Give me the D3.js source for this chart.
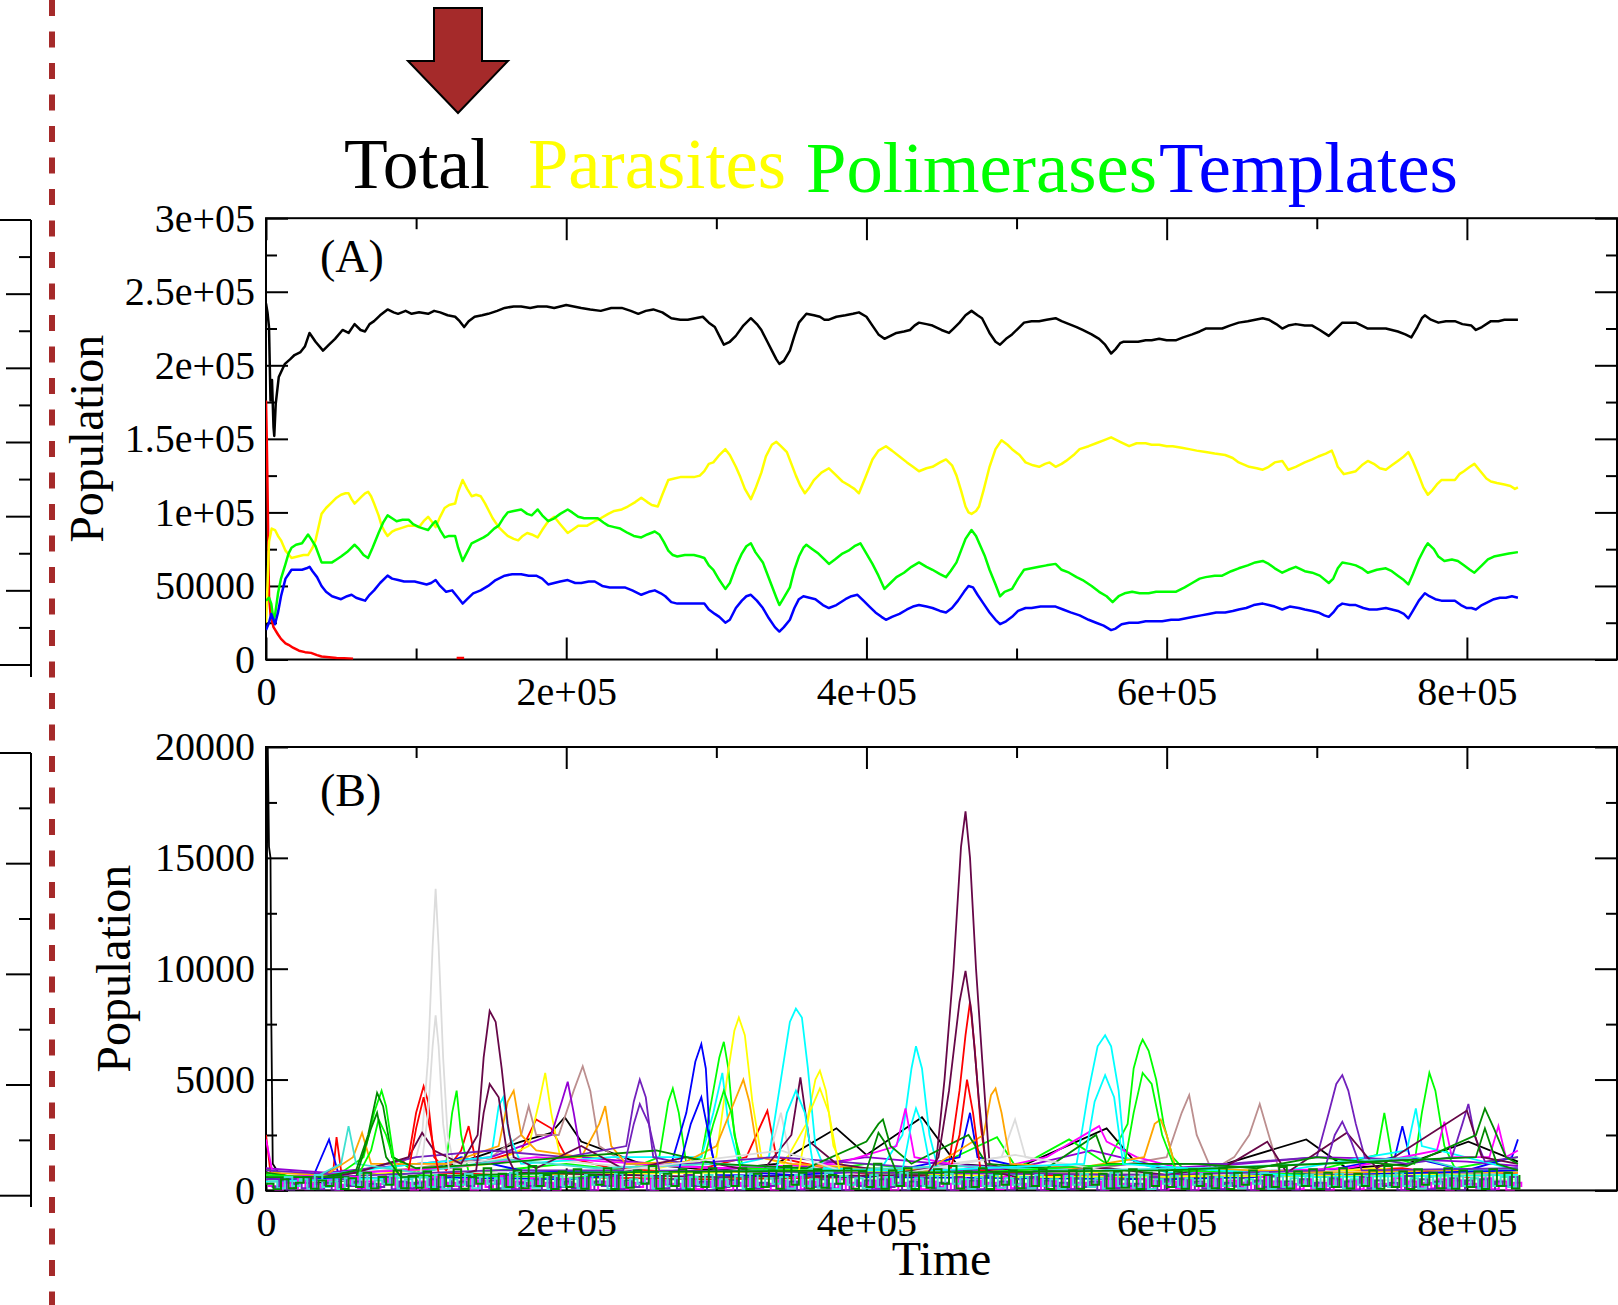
<!DOCTYPE html>
<html><head><meta charset="utf-8">
<script src="https://cdn.jsdelivr.net/npm/d3@7"></script>
<style>body{margin:0;background:#fff}svg{display:block}</style>
</head><body>
<svg id="c" width="1618" height="1305"></svg>
<script>
// ---------------- DATA (time in thousands, panel A values in thousands) ----------------
const legendLabels = ["Total", "Parasites", "Polimerases", "Templates"];
const xTickValues = [0, 200000, 400000, 600000, 800000];
const yTickValuesA = [0, 50000, 100000, 150000, 200000, 250000, 300000];
const yTickValuesB = [0, 5000, 10000, 15000, 20000];

const totalK = [[0,242],[1,236],[2,226],[3,176],[4,190],[5,158],[5.5,152],[6.5,174],[8.5,192],[12.6,201],[16,204],[19,207],[23,209],[26,213],[29,222],[33,216],[38,210],[42,214],[46,218],[51,224],[55,222],[59,228],[63,224],[66,223],[69,228],[72,230],[76,234],[81,238],[85,236],[88,235],[93,237],[97,235],[102,236],[108,235],[112,237],[116,236],[121,234],[126,233],[129,230],[132,226],[135,230],[139,233],[144,234],[148,235],[154,237],[159,239],[165,240],[170,240],[176,239],[181,240],[187,240],[192,239],[196,240],[200,241],[205,240],[210,239],[216,238],[223,237],[230,239],[237,239],[243,237],[248,235],[253,237],[258,238],[264,236],[270,232],[276,231],[281,231],[286,232],[291,233],[295,229],[299,226],[303,218],[305,214],[309,216],[313,220],[318,227],[323,232],[327,228],[330,224],[334,216],[337,210],[340,204],[342,201],[345,203],[349,210],[352,220],[355,229],[360,235],[365,234],[369,233],[372,231],[375,231],[380,233],[386,234],[391,235],[395,236],[400,233],[404,227],[408,221],[412,218],[416,220],[420,222],[425,223],[429,224],[432,227],[435,229],[440,228],[444,227],[450,224],[455,222],[458,225],[462,229],[466,234],[470,237],[474,234],[477,232],[480,226],[482,222],[486,216],[489,214],[493,218],[497,221],[501,225],[505,229],[510,230],[515,230],[520,231],[526,232],[530,230],[535,228],[540,226],[544,224],[550,221],[555,218],[559,214],[563,208],[566,211],[569,215],[571,216],[576,216],[581,216],[586,217],[590,217],[595,218],[600,217],[606,217],[611,219],[617,221],[622,223],[626,225],[632,225],[637,225],[642,227],[648,229],[654,230],[659,231],[664,232],[668,231],[673,228],[677,225],[681,227],[686,228],[692,227],[697,227],[702,224],[708,220],[712,224],[717,229],[722,229],[726,229],[730,227],[734,225],[740,225],[746,225],[750,224],[754,223],[759,221],[763,219],[767,226],[770,232],[772,234],[776,231],[781,229],[786,230],[792,230],[797,228],[803,227],[806,224],[810,226],[816,230],[821,230],[825,231],[830,231],[834,231]];

const parasitesK = [[0,25],[1,50],[2,80],[3.8,89],[6,88],[8,84],[10,81],[13,74],[17,69],[21,70],[25,71],[28,71],[31,76],[33,81],[35,90],[37,99],[40,103],[44,107],[47,110],[50,112],[53,113],[55,113],[57,109],[59,106],[62,109],[64,111],[66,113],[68,114],[70,111],[72,106],[75,98],[77,91],[79,87],[81,84],[84,87],[86,88],[89,89],[92,90],[95,91],[99,91],[102,90],[105,94],[108,97],[111,93],[113,90],[116,97],[119,103],[122,105],[126,106],[128,114],[131,122],[134,116],[137,111],[140,112],[143,111],[146,106],[148,102],[151,96],[155,90],[158,87],[161,84],[165,82],[168,81],[171,84],[174,86],[177,85],[181,83],[184,88],[188,94],[192,97],[196,92],[201,86],[204,88],[208,91],[214,91],[219,94],[223,96],[228,99],[232,101],[237,102],[241,104],[246,107],[250,110],[254,107],[257,105],[261,104],[264,112],[268,122],[272,123],[276,124],[281,124],[285,124],[289,125],[292,128],[295,133],[298,134],[302,139],[306,143],[309,139],[313,131],[316,124],[319,116],[323,109],[326,116],[330,127],[333,138],[337,146],[340,148],[343,145],[347,141],[350,133],[353,125],[356,118],[359,113],[362,117],[365,122],[370,127],[375,130],[379,126],[384,121],[389,118],[392,116],[395,113],[399,123],[404,136],[408,142],[413,145],[417,142],[422,138],[427,134],[431,131],[435,128],[440,130],[444,131],[449,134],[453,136],[457,132],[460,125],[463,115],[466,104],[468,100],[470,99],[473,101],[475,104],[478,115],[482,131],[486,143],[490,149],[494,146],[497,143],[502,139],[506,134],[511,132],[515,131],[519,133],[522,134],[526,131],[530,133],[533,135],[538,139],[542,143],[548,145],[553,147],[558,149],[563,151],[569,148],[575,145],[580,147],[586,147],[590,146],[595,146],[600,145],[604,145],[610,144],[615,143],[620,142],[626,141],[632,140],[639,139],[644,137],[648,134],[655,131],[660,130],[664,129],[668,131],[672,134],[677,135],[681,129],[686,131],[692,134],[697,136],[701,138],[706,140],[710,142],[712,137],[714,131],[718,126],[722,127],[726,128],[730,132],[734,135],[738,133],[742,130],[746,129],[750,132],[754,135],[758,138],[761,141],[764,135],[768,125],[771,117],[774,112],[777,115],[780,119],[783,122],[788,122],[792,122],[795,126],[798,128],[802,131],[805,133],[809,128],[813,123],[816,121],[820,120],[825,119],[829,118],[832,116],[834,117]];

const polimerasesK = [[0,40],[2,42],[3.5,38],[5,27],[6,30],[8,45],[10,55],[13,65],[15,72],[17,76],[20,78],[24,79],[28,85],[30,82],[33,77],[37,66],[40,66],[44,66],[47,68],[50,70],[54,73],[59,78],[62,75],[65,71],[68,69],[71,76],[75,86],[78,93],[81,98],[84,96],[87,94],[91,95],[95,95],[98,92],[102,90],[105,89],[108,88],[111,92],[113,94],[116,88],[119,83],[122,84],[126,84],[128,76],[131,67],[134,73],[137,79],[141,81],[145,83],[148,85],[152,89],[155,91],[158,96],[161,100],[165,101],[170,102],[174,99],[177,98],[181,102],[184,98],[188,94],[192,96],[196,99],[201,102],[204,100],[208,97],[212,96],[216,96],[221,96],[225,93],[228,91],[232,90],[236,89],[241,86],[245,84],[250,83],[254,85],[259,87],[262,85],[265,80],[268,74],[271,71],[274,70],[279,71],[285,71],[289,70],[292,69],[295,64],[298,61],[302,54],[306,48],[309,52],[313,63],[317,72],[320,77],[323,79],[326,73],[331,66],[334,58],[337,50],[340,42],[342,37],[345,42],[349,49],[352,61],[355,70],[358,76],[360,78],[364,75],[368,72],[372,68],[375,65],[379,68],[384,72],[388,74],[392,77],[396,79],[400,72],[404,65],[408,57],[412,48],[416,52],[420,56],[425,59],[430,63],[435,66],[440,63],[444,61],[449,58],[453,56],[456,60],[460,66],[463,74],[466,82],[470,88],[473,84],[476,77],[479,70],[482,61],[486,51],[489,43],[492,46],[497,48],[501,55],[505,61],[510,62],[515,63],[520,64],[526,65],[530,61],[535,59],[540,56],[544,54],[550,50],[555,46],[560,43],[564,39],[568,43],[572,45],[577,46],[582,45],[588,45],[593,46],[600,46],[606,46],[612,49],[617,52],[622,55],[626,56],[632,57],[637,57],[643,60],[648,62],[654,64],[659,66],[664,67],[668,65],[672,62],[677,59],[681,61],[686,63],[692,60],[697,59],[702,57],[708,52],[711,55],[714,62],[717,66],[722,65],[726,64],[730,62],[734,59],[740,61],[746,62],[750,60],[754,57],[758,54],[761,51],[764,58],[768,68],[772,76],[774,79],[778,75],[781,70],[785,67],[790,68],[794,67],[798,64],[802,61],[805,59],[810,64],[814,68],[818,70],[823,71],[828,72],[834,73]];

const templatesK = [[0,20],[2,25],[3.5,31],[5,27],[6,24],[8,32],[10,43],[13,55],[15,58],[17,61],[21,61],[24,61],[27,62],[29,63],[31,60],[34,56],[37,50],[40,46],[44,43],[47,42],[50,41],[54,43],[57,44],[60,42],[63,41],[66,40],[69,44],[72,47],[76,52],[81,57],[84,55],[88,54],[92,53],[96,53],[99,53],[103,52],[107,51],[110,52],[113,54],[116,50],[120,46],[124,47],[128,42],[131,38],[134,41],[138,45],[143,47],[148,50],[153,54],[159,57],[164,58],[170,58],[175,57],[180,57],[184,55],[188,51],[192,52],[196,53],[201,54],[206,52],[210,52],[215,53],[219,53],[224,50],[229,49],[234,49],[239,49],[244,47],[250,44],[255,46],[259,47],[263,45],[266,43],[270,39],[274,38],[280,38],[286,38],[292,38],[295,34],[299,31],[302,29],[306,25],[309,27],[313,35],[317,40],[320,43],[323,44],[327,40],[331,35],[335,28],[339,22],[342,19],[345,22],[349,27],[352,35],[355,41],[358,43],[362,42],[366,41],[371,37],[375,35],[380,37],[386,41],[390,43],[394,44],[398,40],[402,36],[406,32],[410,29],[413,27],[417,29],[422,31],[427,34],[431,36],[435,37],[440,36],[444,35],[449,33],[453,32],[457,35],[461,40],[465,46],[468,50],[471,49],[474,44],[478,38],[482,32],[486,27],[489,24],[493,26],[497,29],[501,33],[506,35],[510,35],[516,36],[521,36],[526,36],[531,34],[536,32],[542,30],[548,27],[553,25],[558,23],[563,20],[566,21],[570,24],[575,25],[581,25],[586,26],[592,26],[597,26],[603,27],[608,27],[613,28],[618,29],[623,30],[628,31],[633,32],[639,32],[644,33],[648,34],[653,35],[658,37],[664,38],[668,37],[672,36],[677,34],[682,36],[688,35],[692,34],[697,33],[701,32],[705,30],[708,29],[711,32],[714,36],[717,38],[722,37],[726,37],[731,35],[735,34],[740,34],[746,35],[750,34],[754,33],[758,31],[761,28],[764,33],[768,40],[772,45],[775,43],[779,41],[783,40],[788,40],[792,40],[796,37],[800,35],[803,35],[806,34],[810,37],[814,39],[818,41],[822,42],[826,42],[830,43],[834,42]];

const redK = [[0,176],[0.5,150],[1,117],[1.5,80],[2,43],[3,31],[5,22],[8,17],[10,14],[13,11],[15,10],[18,8],[22,6],[26,5],[30,4.5],[34,3],[37,2],[42,1.5],[47,1],[52,0.8],[58,0.5],[58.5,null],[127,1],[132,1]];

// Panel B: [time (thousands), population]
const bBlack = [[0,2000],[1,21000],[2,15500],[3,15000],[3.5,7900],[4.5,1200],[10,600],[30,300],[60,500],[100,700],[140,1500],[170,2200],[190,2600],[199,3300],[210,2200],[250,1200],[300,900],[340,1200],[380,2800],[400,1600],[437,3300],[460,1200],[500,1000],[560,2800],[580,1200],[620,800],[693,2300],[720,1000],[760,1200],[801,2200],[834,1300]];
const bRed = [[0,2500],[3,800],[30,400],[45,1000],[47,2400],[50,900],[80,700],[95,1500],[100,3500],[105,4700],[108,4000],[112,1500],[120,900],[130,1800],[135,2900],[140,1200],[170,1800],[180,3200],[190,2800],[200,1500],[230,1000],[280,800],[320,1500],[334,3600],[340,1500],[380,900],[420,600],[455,1200],[462,4500],[466,7000],[469,8500],[472,6500],[476,3000],[480,900],[520,700],[600,500],[680,800],[757,1000],[800,600],[834,800]];
const bGreen = [[0,1000],[20,500],[50,800],[65,1500],[72,3500],[77,4500],[80,3800],[85,1500],[100,800],[120,1200],[124,3500],[127,4500],[130,2500],[135,800],[170,1000],[200,1200],[240,900],[262,1500],[268,4000],[271,4600],[275,3500],[280,1200],[290,1500],[298,4500],[302,6000],[305,6700],[308,5500],[312,2500],[318,1000],[360,800],[400,1200],[440,900],[487,2400],[500,1000],[535,2300],[560,1200],[574,3000],[578,5500],[582,6500],[584,6800],[588,6300],[593,5000],[598,3000],[604,1500],[612,900],[660,700],[700,900],[740,1600],[745,3500],[750,1500],[765,1200],[770,3500],[775,5300],[779,4500],[785,2000],[792,1000],[834,1500]];
const bBlue = [[0,600],[30,400],[42,2300],[48,800],[100,700],[130,1500],[170,900],[230,800],[270,1200],[280,3500],[286,5800],[290,6600],[293,5500],[296,2000],[300,900],[350,700],[420,900],[462,1500],[469,3500],[474,1500],[520,800],[600,600],[700,800],[752,1500],[757,2900],[762,1500],[800,900],[830,1500],[834,2300]];
const bYellow = [[0,500],[50,600],[100,900],[150,1200],[175,2000],[182,4000],[186,5300],[190,3500],[196,1500],[220,1500],[260,1000],[300,1500],[307,5000],[312,7200],[315,7800],[319,7000],[324,4000],[330,1500],[345,1200],[360,3000],[366,5000],[369,5400],[373,4500],[378,2000],[385,1000],[430,900],[500,700],[560,800],[600,600],[660,900],[700,800],[740,1000],[780,700],[834,900]];
const bBrown = [[0,600],[60,800],[100,1000],[150,1500],[170,2500],[175,3800],[180,2500],[195,2500],[205,4500],[211,5600],[216,4500],[222,2000],[240,1200],[300,1000],[360,1000],[420,900],[480,900],[540,800],[600,1500],[610,3500],[615,4300],[620,2500],[630,900],[645,1500],[655,2500],[662,3900],[668,2500],[675,900],[720,700],[780,800],[834,700]];
const bGrey = [[0,500],[40,600],[100,1500],[104,2500],[108,6000],[111,11000],[113,13600],[115,11000],[118,6000],[121,2500],[125,1200],[170,1500],[250,1000],[335,1500],[343,3500],[350,1200],[420,900],[490,1500],[499,3200],[506,1500],[560,800],[640,700],[700,900],[780,600],[834,700]];
const bViolet = [[0,1000],[40,800],[100,1200],[150,1500],[190,2500],[197,4000],[201,4900],[205,3500],[210,1500],[260,1200],[300,1000],[350,1000],[400,1500],[450,1200],[500,1000],[550,1800],[600,1000],[650,1200],[700,1500],[760,1400],[800,1300],[834,1100]];
const bCyan = [[0,500],[50,800],[100,1200],[150,1500],[155,3800],[158,4200],[162,2500],[170,1200],[230,1500],[290,1500],[298,3500],[304,5300],[308,3000],[315,1200],[335,1500],[343,5000],[349,7600],[353,8200],[357,7800],[361,5500],[366,2000],[372,1000],[410,1000],[424,2500],[430,5500],[433,6500],[437,5500],[442,2500],[448,900],[500,700],[540,1200],[548,4500],[554,6500],[559,7000],[563,6500],[568,4500],[572,1500],[600,800],[680,900],[760,1800],[766,3700],[770,2000],[834,900]];
const bMagenta = [[0,2300],[5,600],[60,800],[120,1000],[180,1500],[250,1200],[300,1000],[380,1200],[420,2000],[426,3700],[432,1500],[480,900],[520,1500],[555,2900],[560,2200],[580,1500],[620,800],[680,900],[720,1000],[780,1800],[785,3100],[790,1500],[815,1500],[821,2900],[826,1500],[834,1800]];
const bOrange = [[0,800],[40,700],[58,1500],[64,2600],[70,1200],[120,1200],[155,2000],[161,4000],[165,4500],[170,2500],[180,1800],[210,1500],[222,3000],[226,3800],[230,2000],[240,1200],[280,1300],[300,2000],[312,4000],[318,5000],[322,4000],[328,1500],[350,1200],[400,1000],[440,900],[478,2500],[483,4300],[486,4600],[490,3500],[496,1200],[540,1000],[585,1500],[592,3000],[596,3200],[600,2500],[606,1000],[660,900],[720,800],[780,900],[834,800]];
const bIndigo = [[0,900],[50,700],[100,1500],[150,1800],[200,1500],[240,2000],[245,4000],[249,5000],[253,4200],[258,1500],[280,1200],[340,1500],[400,1200],[460,900],[520,1000],[580,1200],[640,1200],[700,1500],[708,3500],[713,4800],[717,5200],[721,4500],[726,3000],[732,1500],[760,1200],[790,1500],[797,3000],[801,3900],[805,2500],[812,1300],[834,1500]];
const bMaroon = [[0,600],[20,300],[60,800],[95,1500],[104,2600],[112,1800],[130,1200],[141,2500],[145,6000],[149,8100],[153,7600],[157,5500],[161,3000],[165,1500],[180,1000],[210,2000],[240,900],[280,1500],[300,1200],[330,800],[350,2500],[356,5100],[362,2200],[380,1200],[420,800],[446,1000],[452,5000],[458,10000],[463,15500],[466,17100],[469,15000],[473,10000],[477,6000],[482,1200],[500,800],[560,1000],[600,700],[640,1100],[667,2200],[680,800],[720,2600],[740,1000],[800,3600],[810,1500],[834,1200]];
const bTurquoise = [[0,700],[30,500],[50,1200],[55,2900],[60,1200],[100,800],[160,1400],[220,1000],[300,1200],[380,900],[460,1100],[540,900],[620,1000],[700,1200],[766,1500],[800,900],[834,1000]];
const bGreen4 = [[0,800],[30,500],[60,900],[68,2500],[74,4400],[78,3800],[84,1500],[100,1000],[150,1200],[200,1500],[260,1800],[300,1200],[360,1000],[400,2200],[408,3000],[411,3200],[416,2000],[430,1200],[468,2500],[480,1200],[520,1000],[553,2500],[560,1200],[620,1200],[660,1000],[700,1500],[760,1100],[806,2500],[812,3700],[818,2800],[826,1500],[834,1200]];
// second line of each species pair
const bRed2 = [[95,900],[100,2800],[105,4200],[110,2500],[115,800],[200,600],[300,500],[400,600],[455,700],[462,2500],[467,5000],[471,3500],[476,900],[540,600]];
const bGreen2 = [[0,700],[60,500],[70,1800],[75,3200],[80,2500],[88,700],[200,600],[290,900],[298,3000],[305,4500],[310,3500],[316,1000],[450,700],[572,1200],[578,3500],[584,5300],[590,4800],[597,2500],[606,900],[700,700]];
const bBlue2 = [[0,500],[100,600],[200,500],[275,900],[283,3000],[290,4200],[295,2500],[300,700],[400,600],[600,500],[834,900]];
const bYellow2 = [[0,400],[150,700],[300,800],[355,900],[362,3500],[369,4600],[375,3500],[382,900],[500,600],[834,700]];
const bGrey2 = [[0,400],[80,500],[103,800],[108,3500],[111,6500],[113,7900],[115,6500],[118,3000],[122,900],[200,600],[343,1800],[400,500],[499,1600],[600,400],[834,500]];
const bCyan2 = [[0,400],[200,800],[340,900],[347,3500],[353,4500],[359,3500],[365,900],[424,900],[430,3000],[433,3700],[437,3000],[443,900],[545,1200],[552,4000],[559,5200],[565,4200],[571,1200],[700,600],[834,700]];
const bIndigo2 = [[0,500],[150,900],[238,900],[245,3000],[249,3900],[255,3000],[262,900],[400,800],[600,700],[705,900],[712,2500],[717,3100],[723,2200],[730,900],[834,1000]];
const bMaroon2 = [[130,700],[140,900],[145,3500],[149,4800],[155,4200],[161,1500],[166,800],[300,600],[440,700],[448,1500],[455,4500],[462,8500],[466,9900],[470,8000],[475,4000],[480,900],[500,600]];
const bGreen4b = [[0,600],[60,600],[70,2800],[74,3500],[80,1500],[90,600],[200,800],[400,900],[408,2600],[412,2200],[420,800],[600,900],[806,1500],[812,2800],[820,1200],[834,900]];
// fast fluctuating low populations, sampled every 5000 time units (each with its own start offset)
const noiseGreen4 = [300,50,500,100,350,600,80,450,200,700,60,550,150,800,90,600,250,900,100,650,
120,850,60,700,200,950,80,600,300,1000,50,750,150,900,100,1100,200,700,60,850,
150,950,80,700,250,1000,60,800,120,900,300,1100,80,750,200,950,50,800,150,1000,
100,850,200,1000,60,750,150,900,80,1100,250,800,90,950,120,700,300,1000,70,850,
150,1200,80,900,200,1000,60,800,120,950,300,1100,90,850,150,1000,60,750,250,900,
100,800,200,950,60,700,150,900,80,1000,250,750,90,850,120,950,60,800,200,900,
150,850,70,950,200,750,100,1000,60,800,250,900,80,700,150,1050,90,850,200,950,
60,800,150,1000,90,750,200,900,70,1100,150,850,60,950,250,800,100,1000,80,900,
150,850,60,950,200,800,90,700];
const noiseTurquoise = [400,100,600,200,500,80,700,150,400,60,550,250,800,100,450,300,650,90,500,200,
600,150,700,80,500,250,750,100,600,300,550,90,800,200,450,120,700,60,650,180,
550,100,700,250,600,80,750,150,500,300,650,90,800,200,550,100,600,250,700,120,
500,200,650,80,750,150,550,300,600,90,700,200,500,120,800,60,650,250,550,100,
700,150,600,250,800,90,550,200,650,100,750,300,500,80,600,200,700,120,550,250,
600,100,700,200,500,80,650,250,750,150,550,90,800,200,600,120,700,60,500,300,
650,150,550,250,750,90,600,200,700,100,500,300,800,80,650,150,550,250,700,120,
600,200,750,100,500,250,650,80,700,150,800,200,550,90,600,300,700,120,650,200,
550,100,700,200,600,150,650];
const noiseMagenta = [200,0,350,100,500,50,300,150,450,0,250,600,100,400,50,300,550,100,350,0,
400,100,600,50,350,200,500,0,450,150,300,650,100,400,50,550,200,350,0,500,
300,100,550,0,400,200,600,50,350,150,500,0,450,250,300,100,600,50,400,150,
500,0,350,200,550,100,300,0,450,150,600,50,400,200,300,100,500,0,350,250,
450,100,600,0,350,200,500,50,400,150,300,0,550,100,450,200,350,50,600,100,
300,150,500,0,450,100,650,50,350,200,400,0,550,150,300,100,500,50,450,0,
400,100,550,0,300,200,500,50,450,150,350,0,600,100,400,200,300,50,500,100,
350,0,500,150,450,50,600,100,300,200,550,0,400,150,350,100,500,0,450,200,
300,100,550,50,400,0,350,150];
const noiseIndigo = [150,450,0,300,100,550,50,350,0,500,200,400,0,300,150,600,50,400,100,350,
0,500,150,650,50,400,200,550,0,450,100,700,50,350,200,500,0,600,150,400,
100,550,0,400,200,650,50,450,150,350,0,600,100,500,50,700,200,400,0,550,
150,450,0,600,100,350,200,550,50,400,0,650,150,500,100,300,0,600,200,450,
50,500,150,700,0,400,200,550,100,350,0,600,150,450,50,650,200,400,0,500,
100,600,0,450,200,350,50,550,150,400,0,650,100,500,200,300,50,600,0,450,
150,500,0,400,100,600,50,350,200,550,0,450,150,650,100,400,0,500,200,350,
50,550,150,400,0,600,100,450,200,350,0,650,150,500,50,400,100,550,0,450,
150,500,0,400,200,600,50];

// ---------------- DRAWING ----------------
const FONT = "'Liberation Serif','Times New Roman',serif";
const svg = d3.select('#c');

const x = d3.scaleLinear().domain([0, 900000]).range([266, 1617]);
const yA = d3.scaleLinear().domain([0, 300000]).range([659.5, 218.2]);
const yB = d3.scaleLinear().domain([0, 20000]).range([1190.4, 747]);

const fmt = v => {
  if (v === 0) return "0";
  if (v < 100000) return String(v);
  const e = Math.floor(Math.log10(v));
  const m = +(v / Math.pow(10, e)).toFixed(2);
  return m + "e+" + String(e).padStart(2, "0");
};

const defs = svg.append('defs');
[['clipA', yA], ['clipB', yB]].forEach(([id, y]) => {
  defs.append('clipPath').attr('id', id).append('rect')
    .attr('x', x(0)).attr('y', y(y.domain()[1]))
    .attr('width', x(900000) - x(0)).attr('height', y(0) - y(y.domain()[1]));
});

// dashed separator and cropped neighbouring axes
svg.append('line').attr('x1', 52).attr('x2', 52).attr('y1', 0).attr('y2', 1305)
  .attr('stroke', '#a52a2a').attr('stroke-width', 6).attr('stroke-dasharray', '16 15.5');

function stubAxis(y, step, bigStep, yEnd) {
  const g = svg.append('g');
  const [d0, d1] = y.domain();
  g.append('line').attr('x1', 31).attr('x2', 31).attr('y1', y(d1)).attr('y2', yEnd)
    .attr('stroke', '#000').attr('stroke-width', 2);
  [d0, d1].forEach(v => g.append('line').attr('x1', 0).attr('x2', 31).attr('y1', y(v)).attr('y2', y(v))
    .attr('stroke', '#000').attr('stroke-width', 2));
  const vals = d3.range(d0 + step, d1, step);
  g.selectAll('.t').data(vals).join('line')
    .attr('x1', v => (v % bigStep === 0) ? 6 : 19).attr('x2', 31)
    .attr('y1', v => y(v)).attr('y2', v => y(v))
    .attr('stroke', '#000').attr('stroke-width', 2);
}
stubAxis(d3.scaleLinear().domain([0, 300000]).range([665, 220]), 25000, 50000, 677);
stubAxis(d3.scaleLinear().domain([0, 20000]).range([1195.7, 753]), 2500, 5000, 1207);

// arrow
svg.append('path').attr('d', 'M434,8 L482,8 L482,61 L508,61 L458,113 L408,61 L434,61 Z')
  .attr('fill', '#a52a2a').attr('stroke', '#000').attr('stroke-width', 2);

// legend
const legendColors = ['#000000', '#ffff00', '#00ff00', '#0000ff'];
const legendX = [344, 528, 806, 1159];
const legendW = [146, 258, 351, 299];
const legendY = [188, 188, 192, 192];
legendLabels.forEach((t, i) => {
  svg.append('text').attr('x', legendX[i]).attr('y', legendY[i]).text(t)
    .attr('font-family', FONT).attr('font-size', 72).attr('fill', legendColors[i])
    .attr('textLength', legendW[i]).attr('lengthAdjust', 'spacingAndGlyphs');
});

function panel(y, yStep, yMinor, yLabels, letter, letterY, popX, showTimeLabel) {
  const top = y.range()[1], bot = y.range()[0];
  const g = svg.append('g');
  const styleAxis = sel => {
    sel.select('.domain').remove();
    sel.attr('font-family', FONT).attr('font-size', 40);
    sel.selectAll('line').attr('stroke', '#000').attr('stroke-width', 2);
    sel.selectAll('text').attr('fill', '#000');
  };
  const xMajor = xTickValues;
  const xMinor = d3.range(100000, 900000, 200000);
  const yMin = d3.range(yMinor, y.domain()[1], yStep);
  g.append('g').attr('transform', `translate(0,${bot})`)
    .call(d3.axisBottom(x).tickValues(xMajor).tickSize(-22).tickPadding(17).tickFormat(fmt)).call(styleAxis);
  g.append('g').attr('transform', `translate(0,${bot})`)
    .call(d3.axisBottom(x).tickValues(xMinor).tickSize(-11).tickFormat('')).call(styleAxis);
  g.append('g').attr('transform', `translate(0,${top})`)
    .call(d3.axisTop(x).tickValues(xMajor).tickSize(-22).tickFormat('')).call(styleAxis);
  g.append('g').attr('transform', `translate(0,${top})`)
    .call(d3.axisTop(x).tickValues(xMinor).tickSize(-11).tickFormat('')).call(styleAxis);
  g.append('g').attr('transform', `translate(${x(0)},0)`)
    .call(d3.axisLeft(y).tickValues(yLabels).tickSize(-22).tickPadding(11).tickFormat(fmt)).call(styleAxis);
  g.append('g').attr('transform', `translate(${x(0)},0)`)
    .call(d3.axisLeft(y).tickValues(yMin).tickSize(-11).tickFormat('')).call(styleAxis);
  g.append('g').attr('transform', `translate(${x(900000)},0)`)
    .call(d3.axisRight(y).tickValues(yLabels).tickSize(-22).tickFormat('')).call(styleAxis);
  g.append('g').attr('transform', `translate(${x(900000)},0)`)
    .call(d3.axisRight(y).tickValues(yMin).tickSize(-11).tickFormat('')).call(styleAxis);
  g.append('rect').attr('x', x(0)).attr('y', top).attr('width', x(900000) - x(0)).attr('height', bot - top)
    .attr('fill', 'none').attr('stroke', '#000').attr('stroke-width', 2);
  g.append('text').attr('x', 320).attr('y', letterY).text(letter)
    .attr('font-family', FONT).attr('font-size', 46);
  g.append('text').attr('transform', `translate(${popX},${(top + bot) / 2}) rotate(-90)`)
    .attr('text-anchor', 'middle').text('Population').attr('font-family', FONT).attr('font-size', 48);
  if (showTimeLabel) {
    g.append('text').attr('x', (x(0) + x(900000)) / 2).attr('y', 1275).attr('text-anchor', 'middle')
      .text('Time').attr('font-family', FONT).attr('font-size', 48);
  }
  return g;
}

panel(yA, 50000, 25000, yTickValuesA, '(A)', 272, 103, false);
panel(yB, 5000, 2500, yTickValuesB, '(B)', 806, 130, true);

// Panel A lines
const lineA = d3.line().defined(d => d[1] != null).x(d => x(d[0] * 1000)).y(d => yA(d[1] * 1000));
const linesA = svg.append('g').attr('clip-path', 'url(#clipA)');
[[redK, '#ff0000'], [parasitesK, '#ffff00'], [polimerasesK, '#00ff00'], [templatesK, '#0000ff'], [totalK, '#000000']]
  .forEach(([d, c]) => linesA.append('path').attr('d', lineA(d)).attr('fill', 'none')
    .attr('stroke', c).attr('stroke-width', 2.5).attr('stroke-linejoin', 'round'));

// Panel B lines
const lineB = d3.line().x(d => x(d[0] * 1000)).y(d => yB(d[1]));
const linesB = svg.append('g').attr('clip-path', 'url(#clipB)');
const seriesB = [
  [bBlack, '#000000'], [bRed, '#ff0000'], [bGreen, '#00ff00'], [bBlue, '#0000ff'], [bYellow, '#ffff00'],
  [bBrown, '#bc8f8f'], [bGrey, '#dcdcdc'], [bViolet, '#9400d3'], [bCyan, '#00ffff'], [bMagenta, '#ff00ff'],
  [bOrange, '#ffa500'], [bIndigo, '#7221bc'], [bMaroon, '#670748'], [bTurquoise, '#40e0d0'], [bGreen4, '#008b00'],
  [bRed2, '#ff0000'], [bGreen2, '#00ff00'], [bBlue2, '#0000ff'], [bYellow2, '#ffff00'], [bGrey2, '#dcdcdc'],
  [bCyan2, '#00ffff'], [bIndigo2, '#7221bc'], [bMaroon2, '#670748'], [bGreen4b, '#008b00']
];
seriesB.forEach(([d, c]) => linesB.append('path').attr('d', lineB(d)).attr('fill', 'none')
  .attr('stroke', c).attr('stroke-width', 1.8));
const noiseLine = offset => d3.line().curve(d3.curveStepAfter).x((d, i) => x(offset + i * 5000)).y(d => yB(d));
[[noiseMagenta, 1250, '#ff00ff'], [noiseIndigo, 3750, '#7221bc'], [noiseTurquoise, 2500, '#40e0d0'], [noiseGreen4, 0, '#008b00']]
  .forEach(([d, off, c]) => linesB.append('path').attr('d', noiseLine(off)(d)).attr('fill', 'none')
    .attr('stroke', c).attr('stroke-width', 2));
</script>
</body></html>
